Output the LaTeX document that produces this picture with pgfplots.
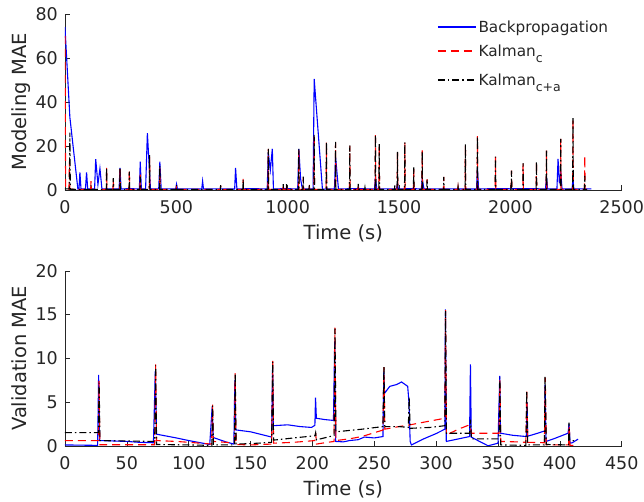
\documentclass[border=0pt]{standalone}
\usepackage{pgfplots}
\pgfplotsset{compat=1.18}
\usepackage{fontspec}
\setmainfont{DejaVu Sans}
\definecolor{txt}{RGB}{38,38,38}
\definecolor{bpblue}{RGB}{0,0,255}
\definecolor{kcred}{RGB}{255,0,0}
\newcommand{\sub}[1]{\raisebox{-6pt}{\fontsize{12.5}{12}\selectfont #1}}
\tikzset{
 bpsty/.style={draw=bpblue, solid, line width=1.1pt},
 kcsty/.style={draw=kcred, dash pattern=on 8pt off 5pt, line width=1.1pt},
 kcasty/.style={draw=black, dash pattern=on 7pt off 3pt on 1.5pt off 3pt, line width=1.1pt},
 legtxt/.style={anchor=base west, inner sep=0pt, text=txt, font=\fontsize{15.3}{16}\selectfont},
}
\begin{document}
\begin{tikzpicture}
\path (0pt,0pt) rectangle (644pt,502pt);
\pgfplotsset{
 mystyle/.style={
  scale only axis, width=557pt,
  axis lines*=left, tick align=inside,
  axis line style={color=txt, line width=0.6pt},
  tick style={color=txt, line width=0.6pt},
  major tick length=5pt,
  /pgf/number format/assume math mode=true,
  /pgf/number format/1000 sep={},
  ticklabel style={font=\fontsize{17.5}{18}\selectfont, text=txt},
  xticklabel style={anchor=base, yshift=-24pt, inner sep=0pt},
  yticklabel style={anchor=east, inner sep=0pt, xshift=-7pt},
  label style={font=\fontsize{19.5}{20}\selectfont, text=txt},
  xlabel style={at={(axis description cs:0.5,0)}, anchor=base, yshift=-50pt, inner sep=0pt},
  ylabel style={at={(axis description cs:-0.0682,0.5)}, anchor=base, inner sep=0pt},
 },
}
% ---------------- top ----------------
\begin{axis}[mystyle, at={(65pt,312pt)}, anchor=south west, height=176pt,
  xmin=0, xmax=2500, ymin=0, ymax=80,
  xtick={0,500,...,2500}, ytick={0,20,...,80},
  xlabel={Time (s)}, ylabel={Modeling MAE},
]
\addplot[bpsty] coordinates {(0,74)(22,33)(58,0.4)(63,0.4)(67,8)(72,0.4)(92,0.5)(97,8)(102,0.4)(133,0.5)(138,14)(148,2.5)(157,9.7)(166,0.4)(200,0.5)(243,0.4)(247,10)(252,0.4)(290,0.6)(334,0.4)(338,12.8)(343,0.5)(362,0.4)(370,25.8)(384,0.4)(421,0.5)(426,12.8)(432,0.4)(460,0.5)(497,0.4)(501,2.6)(505,0.4)(560,0.5)(614,0.4)(618,4)(622,0.4)(700,0.5)(762,0.4)(766,10)(772,0.4)(840,0.6)(908,0.4)(913,17)(922,9)(931,18.7)(936,0.4)(990,0.6)(1045,0.4)(1050,18.7)(1058,5)(1066,0.4)(1114,0.4)(1119,50.5)(1156,0.3)(1180,0.5)(1210,0.4)(1215,15)(1228,0.4)(1300,0.6)(1390,0.4)(1394,6)(1400,0.4)(1450,0.5)(1489,0.4)(1493,3)(1497,0.4)(1560,0.6)(1600,0.4)(1604,5)(1612,0.4)(1700,0.5)(1800,0.4)(1848,0.4)(1852,10)(1857,0.4)(1930,0.6)(2000,0.5)(2100,0.6)(2158,0.4)(2162,6)(2167,0.4)(2209,0.4)(2214,14.1)(2220,3)(2226,8)(2232,0.4)(2277,0.4)(2281,5)(2285,0.4)(2330,0.5)(2364,0.5)};
\addplot[kcsty] coordinates {(0,70)(3,0.3)(18,0.3)(20,13)(22,0.3)
(115.5,0.2)(117,4)(118.5,0.2)(185.5,0.2)(187,10)(188.5,0.2)(215.5,0.2)(217,5)(218.5,0.2)(245.5,0.2)(247,10)(248.5,0.2)(287.5,0.2)(289,9)(290.5,0.2)(336.5,0.2)(338,7)(339.5,0.2)(378.5,0.2)(380,15)(381.5,0.2)(424.5,0.2)(426,10)(427.5,0.2)(499.5,0.2)(501,2)(502.5,0.2)(697.5,0.2)(699,2)(700.5,0.2)(798.5,0.2)(800,5)(801.5,0.2)(911.5,0.2)(913,18.7)(914.5,0.2)(978.5,0.2)(980,2.5)(981.5,0.2)(993.5,0.2)(995,2.5)(996.5,0.2)(1048.5,0.2)(1050,18)(1051.5,0.2)(1068.5,0.2)(1070,5.5)(1071.5,0.2)(1095.5,0.2)(1097,2.5)(1098.5,0.2)(1117.5,0.2)(1119,25)(1120.5,0.2)(1172.5,0.2)(1174,21.5)(1175.5,0.2)(1213.5,0.2)(1215,21.5)(1216.5,0.2)(1277.5,0.2)(1279,20)(1280.5,0.2)(1315.5,0.2)(1317,2.7)(1318.5,0.2)(1345.5,0.2)(1347,1.2)(1348.5,0.2)(1392.5,0.2)(1394,25)(1395.5,0.2)(1409.5,0.2)(1411,20.5)(1412.5,0.2)(1479.5,0.2)(1481,2)(1482.5,0.2)(1491.5,0.2)(1493,17)(1494.5,0.2)(1524.5,0.2)(1526,21.5)(1527.5,0.2)(1564.5,0.2)(1566,10)(1567.5,0.2)(1602.5,0.2)(1604,18)(1605.5,0.2)(1624.5,0.2)(1626,4.9)(1627.5,0.2)(1699.5,0.2)(1701,5.9)(1702.5,0.2)(1763.5,0.2)(1765,1.5)(1766.5,0.2)(1796.5,0.2)(1798,20.8)(1799.5,0.2)(1850.5,0.2)(1852,24.5)(1853.5,0.2)(1931.5,0.2)(1933,15)(1934.5,0.2)(2003.5,0.2)(2005,8.8)(2006.5,0.2)(2055.5,0.2)(2057,12)(2058.5,0.2)(2115.5,0.2)(2117,12.9)(2118.5,0.2)(2160.5,0.2)(2162,17.9)(2163.5,0.2)(2224.5,0.2)(2226,23.2)(2227.5,0.2)(2279.5,0.2)(2281,32.6)(2282.5,0.2)(2332.5,0.2)(2334,15.5)(2335.5,0.2)(2345,0.2)};
\addplot[kcasty] coordinates {(0,0.5)(20,0.5)(22,26)(24,0.3)
(115.5,0.2)(117,2)(118.5,0.2)(185.5,0.2)(187,10.2)(188.5,0.2)(215.5,0.2)(217,5.3)(218.5,0.2)(245.5,0.2)(247,10)(248.5,0.2)(287.5,0.2)(289,8.3)(290.5,0.2)(336.5,0.2)(338,6)(339.5,0.2)(378.5,0.2)(380,16)(381.5,0.2)(424.5,0.2)(426,11)(427.5,0.2)(499.5,0.2)(501,2.2)(502.5,0.2)(697.5,0.2)(699,2.2)(700.5,0.2)(798.5,0.2)(800,4.8)(801.5,0.2)(911.5,0.2)(913,18.7)(914.5,0.2)(978.5,0.2)(980,2.6)(981.5,0.2)(993.5,0.2)(995,2.6)(996.5,0.2)(1048.5,0.2)(1050,18.7)(1051.5,0.2)(1068.5,0.2)(1070,6)(1071.5,0.2)(1095.5,0.2)(1097,2.6)(1098.5,0.2)(1117.5,0.2)(1119,25)(1120.5,0.2)(1172.5,0.2)(1174,22)(1175.5,0.2)(1213.5,0.2)(1215,21.8)(1216.5,0.2)(1277.5,0.2)(1279,20.3)(1280.5,0.2)(1315.5,0.2)(1317,2.7)(1318.5,0.2)(1345.5,0.2)(1347,1.2)(1348.5,0.2)(1392.5,0.2)(1394,25.3)(1395.5,0.2)(1409.5,0.2)(1411,20.8)(1412.5,0.2)(1479.5,0.2)(1481,2)(1482.5,0.2)(1491.5,0.2)(1493,17.3)(1494.5,0.2)(1524.5,0.2)(1526,21.7)(1527.5,0.2)(1564.5,0.2)(1566,10.2)(1567.5,0.2)(1602.5,0.2)(1604,17.7)(1605.5,0.2)(1624.5,0.2)(1626,4.9)(1627.5,0.2)(1699.5,0.2)(1701,5.9)(1702.5,0.2)(1763.5,0.2)(1765,1.5)(1766.5,0.2)(1796.5,0.2)(1798,20.8)(1799.5,0.2)(1850.5,0.2)(1852,24.5)(1853.5,0.2)(1931.5,0.2)(1933,15.1)(1934.5,0.2)(2003.5,0.2)(2005,8.8)(2006.5,0.2)(2055.5,0.2)(2057,12.2)(2058.5,0.2)(2115.5,0.2)(2117,12.9)(2118.5,0.2)(2160.5,0.2)(2162,17.9)(2163.5,0.2)(2224.5,0.2)(2226,23.2)(2227.5,0.2)(2279.5,0.2)(2281,32.6)(2282.5,0.2)(2332.5,0.2)(2334,6.4)(2335.5,0.2)(2345,0.2)};
\end{axis}
% legend (key)
\draw[bpsty] (438pt,475pt) -- (476pt,475pt);
\node[legtxt] at (478.5pt,469.5pt) {Backpropagation};
\draw[kcsty] (438pt,451pt) -- (476pt,451pt);
\node[legtxt] at (478.5pt,445.5pt) {Kalman\sub{c}};
\draw[kcasty] (438pt,422pt) -- (476pt,422pt);
\node[legtxt] at (478.5pt,416.5pt) {Kalman\sub{c+a}};
% ---------------- bottom ----------------
\begin{axis}[mystyle, at={(65pt,56pt)}, anchor=south west, height=175pt,
  xmin=0, xmax=450, ymin=0, ymax=20,
  xtick={0,50,...,450}, ytick={0,5,...,20},
  xlabel={Time (s)}, ylabel={Validation MAE},
]
\addplot[bpsty] coordinates {(0,0.1)(26.4,0.05)(27.2,8.1)(28,0.6)(40,0.55)(50,0.5)(60,0.4)(71.5,0.35)(73,8.5)(74,1.33)(90,0.9)(100,0.6)(117,0.15)(119,4.5)(119.8,0.95)(130,0.45)(136.5,0.2)(137.3,7.5)(138,1.82)(150,1.6)(167,1.0)(167.8,9)(168.5,2.3)(180,2.4)(190,2.2)(199.3,2.1)(202,2.35)(202.5,5.5)(203.2,3.15)(210,3.0)(217,2.9)(218,12)(218.8,0.5)(225,0.45)(230,0.6)(237,0.7)(242,1.0)(250,0.9)(257,1.06)(257.7,8.5)(258.3,6.0)(262.5,6.8)(268,7.0)(272,7.3)(277,6.8)(278,5)(279,0.5)(280,0.1)(290,0.8)(300,1.4)(307,1.9)(307.5,15.6)(308.2,0.5)(315,0.7)(327,1.06)(327.7,9.3)(328.4,1.0)(335,0.5)(342,0.0)(350,0.3)(351.4,8.0)(352,1.44)(362,1.2)(373,1.06)(373.5,5)(374,1.1)(380,1.35)(387.8,1.7)(388,7)(388.8,0.5)(395,0.8)(406.6,1.44)(407.4,2.5)(408.2,0.3)(410,0.35)(414.7,0.76)};
\addplot[kcsty] coordinates {(0,0.6)(27,0.6)(27.5,7.4)(28.2,0.12)(50,0.12)(72.5,0.12)(73.3,9.3)(74,0.6)(90,0.5)(100,0.4)(118.5,0.2)(119.3,4.7)(120,0.5)(130,0.4)(137,0.3)(137.5,8.3)(138.3,0.15)(150,0.1)(167,0.2)(167.9,9.7)(168.6,0.3)(185,0.4)(202,0.6)(202.6,1.5)(203.3,0.2)(210,0.35)(217.5,0.5)(218.2,13.5)(219,0.6)(230,0.8)(240,1.06)(257,1.8)(257.8,9)(258.5,1.9)(270,2.2)(279,2.4)(290,2.7)(307,3.15)(307.6,15.5)(308.3,1.25)(318,1.9)(327,2.4)(327.8,2)(328.5,1.44)(340,1.44)(350.8,1.44)(351.5,7.5)(352.2,0.5)(365,0.45)(372.5,0.4)(373.2,6.2)(374,0.4)(387.5,0.35)(388.2,7.8)(389,0.1)(407,0.1)(407.5,2.4)(408.2,0.05)(412,0.05)};
\addplot[kcasty] coordinates {(0,1.5)(27,1.5)(27.6,7.2)(28.3,0.6)(50,0.55)(72.5,0.5)(73.3,9.2)(74,0.15)(100,0.1)(118.7,0.05)(119.3,4.6)(120,0.1)(137,0.1)(137.6,8.3)(138.3,0.2)(150,0.25)(167,0.4)(167.9,9.6)(168.6,0.65)(185,0.9)(202,1.15)(202.6,1.5)(203.3,0.68)(217.5,1.18)(218.2,13.4)(219,1.6)(240,1.9)(257,2.2)(257.8,9.1)(258.5,2.2)(270,2.2)(277.5,2.1)(278.2,5.6)(279,2.0)(295,2.1)(307,2.3)(307.6,15.4)(308.3,1.44)(327,1.44)(327.8,3)(328.5,0.8)(350.8,0.8)(351.5,7.8)(352.2,0.1)(372.5,0.05)(373.2,6.3)(374,0.1)(387.5,0.1)(388,7.9)(389,0.15)(407,0.1)(407.4,2.66)(408,0.6)(412,0.6)};
\end{axis}
\end{tikzpicture}
\end{document}
